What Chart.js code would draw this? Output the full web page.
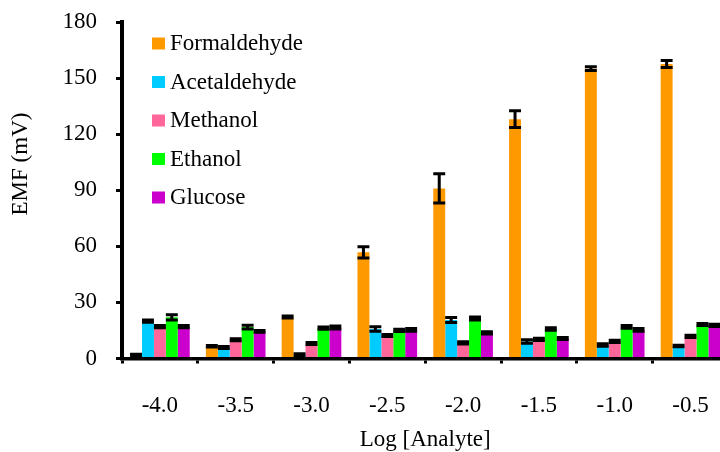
<!DOCTYPE html>
<html><head><meta charset="utf-8">
<style>
html,body{margin:0;padding:0;overflow:hidden;background:#fff;width:720px;height:452px}
#wrap{width:736px;height:452px;position:relative}
</style>
<script src="https://cdn.jsdelivr.net/npm/chart.js@4.4.0/dist/chart.umd.min.js"></script>
</head><body><div id="wrap"><canvas id="c" width="736" height="452"></canvas></div>
<script>
const categories = ['-4.0','-3.5','-3.0','-2.5','-2.0','-1.5','-1.0','-0.5'];
const seriesNames = ['Formaldehyde','Acetaldehyde','Methanol','Ethanol','Glucose'];
const formaldehyde    = [1.8, 6.5, 22.2, 56.8, 91.0, 128.0, 155.0, 157.5];
const formaldehydeErr = [0.5, 0.4, 0.5, 3.0, 7.8, 4.5, 1.0, 1.9];
const acetaldehyde    = [20.0, 5.9, 2.1, 15.8, 20.6, 9.1, 7.2, 6.7];
const acetaldehydeErr = [0.6, 0.5, 0.5, 1.2, 1.3, 0.9, 0.7, 0.4];
const methanol        = [17.0, 10.0, 8.0, 12.3, 8.3, 10.2, 9.1, 11.8];
const methanolErr     = [0.6, 0.5, 0.5, 0.5, 0.6, 0.6, 0.6, 0.6];
const ethanol         = [22.0, 16.8, 16.3, 15.0, 21.4, 15.8, 16.9, 18.2];
const ethanolErr      = [1.4, 1.0, 0.6, 0.6, 0.8, 0.7, 0.7, 0.5];
const glucose         = [17.0, 14.5, 16.6, 15.3, 13.7, 10.7, 15.3, 17.7];
const glucoseErr      = [0.6, 0.5, 0.8, 0.7, 0.6, 0.6, 0.7, 0.6];
const yTicks = [0, 30, 60, 90, 120, 150, 180];

const colors = ['#FF9900','#00CCFF','#FF6699','#00FF00','#CC00CC'];
const values = [formaldehyde, acetaldehyde, methanol, ethanol, glucose];
const errors = [formaldehydeErr, acetaldehydeErr, methanolErr, ethanolErr, glucoseErr];
const FONT = '"Liberation Serif", "Times New Roman", serif';

const errorBars = {
  id: 'errorBars',
  afterDatasetsDraw(chart) {
    const ctx = chart.ctx, ys = chart.scales.y;
    ctx.save();
    ctx.strokeStyle = '#000';
    chart.data.datasets.forEach((ds, di) => {
      const meta = chart.getDatasetMeta(di);
      meta.data.forEach((bar, i) => {
        const v = ds.data[i], e = ds.errors[i];
        const yt = ys.getPixelForValue(v + e), yb = ys.getPixelForValue(v - e);
        const hw = bar.width / 2;
        ctx.lineWidth = 3;
        ctx.beginPath();
        ctx.moveTo(bar.x, yt); ctx.lineTo(bar.x, yb);
        ctx.moveTo(bar.x - hw, yt); ctx.lineTo(bar.x + hw, yt);
        ctx.moveTo(bar.x - hw, yb); ctx.lineTo(bar.x + hw, yb);
        ctx.stroke();
      });
    });
    ctx.restore();
  }
};

const extras = {
  id: 'extras',
  afterDraw(chart) {
    const ctx = chart.ctx, ca = chart.chartArea;
    ctx.save();
    ctx.fillStyle = '#000';
    ctx.font = '23px ' + FONT;
    ctx.translate(26.5, 164);
    ctx.rotate(-Math.PI / 2);
    ctx.textAlign = 'center';
    ctx.textBaseline = 'alphabetic';
    ctx.fillText('EMF (mV)', 0, 0);
    ctx.restore();
    ctx.save();
    ctx.font = '23px ' + FONT;
    ctx.textBaseline = 'middle';
    ctx.textAlign = 'left';
    chart.data.datasets.forEach((ds, i) => {
      const yc = ca.top + 21.5 + i * 38.5;
      ctx.fillStyle = ds.backgroundColor;
      ctx.fillRect(ca.left + 30, yc - 6, 13, 12);
      ctx.fillStyle = '#000';
      ctx.fillText(ds.label, ca.left + 48, yc + 0.5);
    });
    ctx.restore();
  }
};

new Chart(document.getElementById('c'), {
  type: 'bar',
  data: {
    labels: categories,
    datasets: seriesNames.map((n, i) => ({
      label: n,
      data: values[i],
      errors: errors[i],
      backgroundColor: colors[i],
      borderWidth: 0,
      categoryPercentage: 0.787,
      barPercentage: 1.0
    }))
  },
  options: {
    responsive: false,
    devicePixelRatio: 1,
    animation: false,
    layout: { padding: { top: 22, right: 7.6, left: 0, bottom: 0 } },
    plugins: { legend: { display: false }, tooltip: { enabled: false } },
    scales: {
      x: {
        offset: true,
        grid: { display: true, drawOnChartArea: false, drawTicks: true, tickLength: 5, color: '#000', lineWidth: 3, offset: true },
        border: { display: true, color: '#000', width: 3.5 },
        ticks: { font: { family: FONT, size: 23 }, color: '#000', padding: 28.7, maxRotation: 0, autoSkip: false },
        title: { display: true, text: 'Log [Analyte]', font: { family: FONT, size: 23 }, color: '#000', padding: { top: 0, bottom: -2 } },
        afterFit: s => { s.height = 93.5; s.paddingLeft = 0; s.paddingRight = 0; }
      },
      y: {
        min: 0, max: 180,
        afterBuildTicks: s => { s.ticks = yTicks.map(v => ({ value: v })); },
        grid: { display: true, drawOnChartArea: false, drawTicks: true, tickLength: 6, color: '#000', lineWidth: 3 },
        border: { display: true, color: '#000', width: 4 },
        ticks: { font: { family: FONT, size: 23 }, color: '#000', padding: 19 },
        afterFit: s => { s.width = 122; s.paddingTop = 0; s.paddingBottom = 0; }
      }
    }
  },
  plugins: [errorBars, extras]
});
</script>
</body></html>
